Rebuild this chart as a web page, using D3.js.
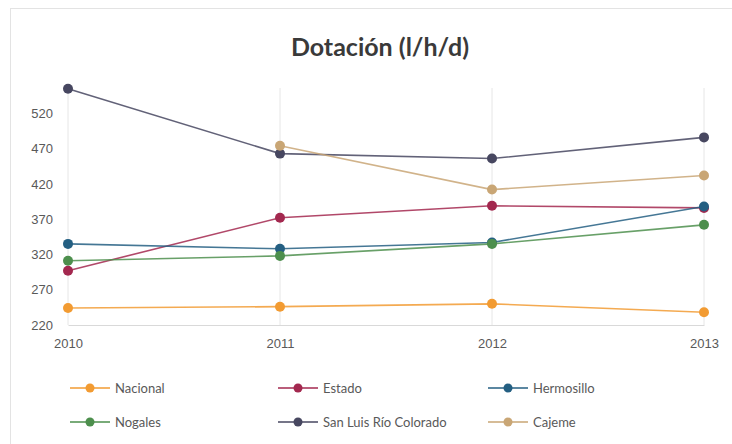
<!DOCTYPE html>
<html>
<head>
<meta charset="utf-8">
<script src="https://cdn.jsdelivr.net/npm/d3@7"></script>
<style>
  body { margin: 0; background: #fff; }
  svg { font-family: Lato, "Open Sans", sans-serif; }
</style>
</head>
<body>
<svg id="chart"></svg>
<script>
// data
const years = ['2010', '2011', '2012', '2013'];
const nacional = [244, 246, 250, 238];
const estado = [297, 372, 389, 386];
const hermosillo = [335, 328, 337, 388];
const nogales = [311, 318, 335, 362];
const sanLuis = [555, 463, 456, 486];
const cajeme = [null, 474, 412, 432];
const yTicks = [220, 270, 320, 370, 420, 470, 520];

const series = [
  { name: 'Nacional', values: nacional, color: '#f29b32' },
  { name: 'Estado', values: estado, color: '#a3284f' },
  { name: 'Hermosillo', values: hermosillo, color: '#245f82' },
  { name: 'Nogales', values: nogales, color: '#4d8f4d' },
  { name: 'San Luis Río Colorado', values: sanLuis, color: '#474760' },
  { name: 'Cajeme', values: cajeme, color: '#c9a675' }
];

const width = 732, height = 444;
const svg = d3.select('#chart').attr('width', width).attr('height', height);

// chart area border
svg.append('rect')
  .attr('x', 10.5).attr('y', 8.5)
  .attr('width', width).attr('height', height)
  .attr('fill', '#fff').attr('stroke', '#e3e3e3');

const xscale = d3.scalePoint().domain(years).range([68, 704]);
const yscale = d3.scaleLinear().domain([220, 556]).range([325, 88]);

// title
svg.append('text')
  .attr('x', 380).attr('y', 56)
  .attr('text-anchor', 'middle')
  .style('font-size', '25px')
  .style('font-weight', 'bold')
  .attr('fill', '#3a3a3a')
  .text('Dotación (l/h/d)');

// vertical gridlines
svg.append('g')
  .selectAll('line')
  .data(years)
  .join('line')
  .attr('x1', d => xscale(d)).attr('x2', d => xscale(d))
  .attr('y1', yscale(556)).attr('y2', yscale(220))
  .attr('stroke', '#e6e6e6');

// x axis
const xaxis = svg.append('g')
  .attr('transform', `translate(0, ${yscale(220)})`)
  .call(d3.axisBottom(xscale).tickSize(0).tickPadding(14));
xaxis.select('.domain').attr('stroke', '#d9d9d9');
xaxis.selectAll('text').attr('fill', '#595959').style('font-size', '13px');

// y axis (labels only)
const yaxis = svg.append('g')
  .attr('transform', 'translate(53, 0)')
  .call(d3.axisLeft(yscale).tickValues(yTicks).tickSize(0).tickPadding(0));
yaxis.select('.domain').remove();
yaxis.selectAll('text').attr('fill', '#595959').style('font-size', '13px');

// lines and markers
const line = d3.line()
  .defined(d => d != null)
  .x((d, i) => xscale(years[i]))
  .y(d => yscale(d));

const groups = svg.append('g')
  .selectAll('g')
  .data(series)
  .join('g');

groups.append('path')
  .attr('d', d => line(d.values))
  .attr('fill', 'none')
  .attr('stroke', d => d.color)
  .attr('stroke-width', 1.6)
  .attr('opacity', 0.85);

groups.selectAll('circle')
  .data(d => d.values.map((v, i) => ({ v: v, i: i, color: d.color })).filter(p => p.v != null))
  .join('circle')
  .attr('cx', p => xscale(years[p.i]))
  .attr('cy', p => yscale(p.v))
  .attr('r', 5)
  .attr('fill', p => p.color);

// legend
const legendX = [70, 278, 488];
const legendY = [388, 422];
const legend = svg.append('g')
  .selectAll('g')
  .data(series)
  .join('g')
  .attr('transform', (d, i) => `translate(${legendX[i % 3]}, ${legendY[Math.floor(i / 3)]})`);

legend.append('line')
  .attr('x1', 0).attr('x2', 40)
  .attr('stroke', d => d.color)
  .attr('stroke-width', 1.6);
legend.append('circle')
  .attr('cx', 20).attr('r', 4.5)
  .attr('fill', d => d.color);
legend.append('text')
  .attr('x', 45).attr('dy', '0.35em')
  .attr('fill', '#595959')
  .style('font-size', '13px')
  .text(d => d.name);
</script>
</body>
</html>
